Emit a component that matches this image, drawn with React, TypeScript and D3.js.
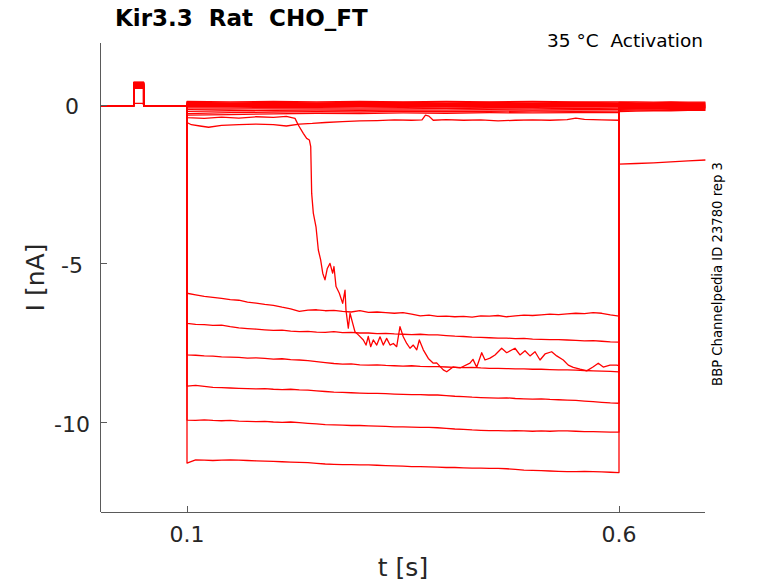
import React from 'react';
import * as d3 from 'd3';

// ---------- data ----------
const X_DOMAIN: [number, number] = [0, 0.7];
const Y_DOMAIN: [number, number] = [-12.8, 1.95];
const X_TICKS = [0.1, 0.6];
const Y_TICKS = [0, -5, -10];
const TITLE = 'Kir3.3  Rat  CHO_FT';
const SUBTITLE = '35 °C  Activation';
const SIDE = 'BBP Channelpedia ID 23780 rep 3';
const X_LABEL = 't [s]';
const Y_LABEL = 'I [nA]';

const BASELINE = -0.02;
const PULSE_START = 0.0385;
const PULSE_END = 0.0498;
const STEP_START = 0.1;

// fine step grid for the large traces (0.10 ... 0.60, every 10 ms)
const T_STEP = d3.range(0, 51).map((i) => +(0.1 + i * 0.01).toFixed(2));
// coarse grid for the near-zero traces
const T_COARSE = [0.1, 0.15, 0.2, 0.25, 0.3, 0.35, 0.4, 0.45, 0.5, 0.55, 0.6];
// tail grid
const T_TAIL = [0.6, 0.62, 0.64, 0.66, 0.68, 0.7];

const traceA = [-5.92,-5.97,-6.02,-6.05,-6.08,-6.12,-6.14,-6.20,-6.23,-6.27,-6.30,-6.36,-6.41,-6.49,-6.45,-6.44,-6.47,-6.46,-6.49,-6.51,-6.47,-6.52,-6.51,-6.53,-6.55,-6.53,-6.58,-6.63,-6.61,-6.65,-6.64,-6.66,-6.65,-6.67,-6.63,-6.64,-6.62,-6.66,-6.63,-6.61,-6.62,-6.60,-6.58,-6.59,-6.57,-6.55,-6.56,-6.53,-6.55,-6.60,-6.64];
const traceB = [-6.87,-6.90,-6.91,-6.93,-6.92,-6.97,-7.01,-7.03,-7.05,-7.07,-7.09,-7.08,-7.11,-7.13,-7.12,-7.14,-7.15,-7.13,-7.16,-7.15,-7.17,-7.17,-7.19,-7.18,-7.20,-7.21,-7.22,-7.21,-7.23,-7.23,-7.25,-7.27,-7.28,-7.30,-7.31,-7.32,-7.33,-7.33,-7.35,-7.34,-7.36,-7.37,-7.38,-7.38,-7.39,-7.40,-7.42,-7.41,-7.43,-7.45,-7.46];
const traceC = [-7.86,-7.87,-7.89,-7.90,-7.92,-7.93,-7.94,-7.96,-7.95,-7.97,-7.99,-7.98,-8.01,-8.02,-8.04,-8.07,-8.10,-8.13,-8.15,-8.14,-8.17,-8.18,-8.17,-8.19,-8.20,-8.21,-8.20,-8.22,-8.23,-8.23,-8.24,-8.25,-8.26,-8.25,-8.27,-8.28,-8.28,-8.29,-8.30,-8.30,-8.31,-8.31,-8.32,-8.33,-8.33,-8.34,-8.35,-8.36,-8.37,-8.38,-8.39];
const traceD = [-8.84,-8.82,-8.85,-8.88,-8.89,-8.90,-8.91,-8.92,-8.93,-8.92,-8.94,-8.95,-8.94,-8.96,-8.97,-8.99,-9.01,-9.03,-9.04,-9.05,-9.06,-9.07,-9.07,-9.08,-9.09,-9.10,-9.11,-9.11,-9.12,-9.12,-9.14,-9.16,-9.17,-9.19,-9.20,-9.21,-9.22,-9.21,-9.23,-9.24,-9.25,-9.24,-9.26,-9.27,-9.28,-9.29,-9.31,-9.33,-9.35,-9.37,-9.38];
const traceE = [-9.91,-9.92,-9.90,-9.92,-9.93,-9.92,-9.94,-9.95,-9.96,-9.95,-9.97,-9.98,-9.97,-9.99,-10.01,-10.03,-10.05,-10.06,-10.07,-10.08,-10.08,-10.09,-10.10,-10.11,-10.12,-10.12,-10.13,-10.14,-10.14,-10.15,-10.17,-10.19,-10.20,-10.22,-10.23,-10.24,-10.24,-10.25,-10.24,-10.25,-10.26,-10.25,-10.26,-10.25,-10.25,-10.26,-10.27,-10.27,-10.28,-10.29,-10.29];
const traceF = [-11.26,-11.16,-11.17,-11.18,-11.17,-11.16,-11.17,-11.18,-11.19,-11.20,-11.21,-11.22,-11.23,-11.24,-11.25,-11.27,-11.29,-11.30,-11.31,-11.31,-11.32,-11.32,-11.33,-11.34,-11.35,-11.36,-11.37,-11.37,-11.38,-11.39,-11.40,-11.40,-11.41,-11.42,-11.42,-11.43,-11.43,-11.44,-11.46,-11.48,-11.49,-11.50,-11.51,-11.52,-11.53,-11.53,-11.52,-11.53,-11.54,-11.55,-11.56];

// trace that runs down mid-step
const traceW_t = [0.10,0.12,0.14,0.16,0.18,0.20,0.215,0.225,0.2288,0.2346,0.2385,0.2416,0.2432,0.2443,0.2462,0.2493,0.252,0.2547,0.2571,0.2597,0.2624,0.2655,0.2686,0.2701,0.2725,0.2763,0.2802,0.2829,0.284,0.2867,0.2887,0.2918,0.2944,0.2983,0.3041,0.3072,0.3098,0.3126,0.3156,0.3196,0.3234,0.3272,0.3311,0.335,0.3388,0.3427,0.3465,0.3503,0.3543,0.3581,0.3619,0.3659,0.3689,0.3735,0.3793,0.3851,0.389,0.3966,0.4006,0.4079,0.416,0.4275,0.431,0.4353,0.4411,0.4449,0.4507,0.4565,0.4642,0.47,0.4796,0.4854,0.4912,0.497,0.5028,0.5086,0.5144,0.5221,0.5279,0.5355,0.5413,0.5471,0.5549,0.5626,0.5703,0.576,0.5818,0.5896,0.5973,0.60];
const traceW_v = [-0.40,-0.42,-0.38,-0.41,-0.37,-0.39,-0.36,-0.42,-0.63,-0.89,-1.05,-1.10,-1.31,-2.78,-3.40,-3.83,-4.56,-4.87,-5.29,-5.50,-5.14,-4.98,-5.29,-5.08,-5.71,-5.92,-6.24,-5.82,-6.45,-7.02,-6.55,-6.87,-7.13,-7.23,-7.39,-7.55,-7.28,-7.60,-7.39,-7.55,-7.29,-7.55,-7.34,-7.55,-7.50,-7.60,-6.97,-7.29,-7.50,-7.65,-7.55,-7.70,-7.39,-7.70,-7.97,-8.12,-8.11,-8.33,-8.39,-8.24,-8.27,-8.12,-8.00,-8.25,-7.79,-8.02,-7.96,-7.86,-7.65,-7.79,-7.65,-7.86,-7.73,-7.89,-7.76,-8.02,-7.83,-7.76,-7.89,-8.02,-8.18,-8.25,-8.31,-8.36,-8.23,-8.12,-8.24,-8.18,-8.18,-8.20];

const traceG_t = [0.10,0.105,0.115,0.125,0.14,0.16,0.18,0.20,0.215,0.23,0.245,0.26,0.28,0.30,0.32,0.34,0.36,0.372,0.376,0.38,0.385,0.40,0.42,0.44,0.46,0.48,0.50,0.52,0.54,0.55,0.56,0.58,0.60];
const traceG_v = [-0.55,-0.62,-0.66,-0.70,-0.64,-0.62,-0.60,-0.62,-0.66,-0.60,-0.58,-0.55,-0.52,-0.50,-0.49,-0.47,-0.48,-0.47,-0.32,-0.35,-0.48,-0.46,-0.48,-0.47,-0.50,-0.48,-0.47,-0.48,-0.46,-0.41,-0.45,-0.47,-0.48];

// near-zero traces on the coarse grid
const traceN1 = [0.11,0.10,0.11,0.10,0.11,0.10,0.11,0.10,0.11,0.10,0.10];
const traceN2 = [0.08,0.07,0.08,0.07,0.08,0.08,0.07,0.08,0.07,0.08,0.07];
const traceN3 = [0.05,0.05,0.04,0.05,0.04,0.05,0.05,0.04,0.05,0.04,0.05];
const traceN4 = [0.02,0.02,0.01,0.02,0.02,0.01,0.02,0.01,0.02,0.02,0.01];
const traceN5 = [-0.01,-0.02,-0.01,-0.01,-0.02,-0.01,-0.02,-0.01,-0.01,-0.02,-0.01];
const traceN6 = [-0.05,-0.05,-0.04,-0.05,-0.04,-0.05,-0.04,-0.05,-0.05,-0.04,-0.05];
const traceN7 = [-0.09,-0.09,-0.08,-0.08,-0.09,-0.08,-0.09,-0.08,-0.08,-0.09,-0.08];
const traceN8 = [-0.14,-0.13,-0.12,-0.12,-0.13,-0.12,-0.11,-0.12,-0.12,-0.11,-0.12];
const traceN9 = [-0.20,-0.18,-0.17,-0.16,-0.17,-0.16,-0.16,-0.15,-0.16,-0.15,-0.15];
const traceN10 = [-0.27,-0.24,-0.22,-0.21,-0.22,-0.20,-0.21,-0.20,-0.19,-0.20,-0.19];
const traceN11 = [-0.32,-0.30,-0.28,-0.26,-0.27,-0.25,-0.26,-0.24,-0.25,-0.24,-0.24];

// tails after the step (T_TAIL)
const tailA = [-0.05,-0.05,-0.04,-0.05,-0.04,-0.04];
const tailB = [-0.08,-0.08,-0.07,-0.08,-0.07,-0.07];
const tailC = [-0.11,-0.10,-0.10,-0.10,-0.09,-0.10];
const tailD = [-0.14,-0.13,-0.13,-0.12,-0.12,-0.12];
const tailE = [-0.17,-0.16,-0.16,-0.15,-0.15,-0.15];
const tailF = [-0.21,-0.19,-0.18,-0.18,-0.17,-0.17];
const tailW = [-1.86,-1.84,-1.82,-1.79,-1.76,-1.73];
const tailG = [-0.02,-0.02,-0.01,-0.02,-0.01,-0.01];
const tailN1 = [0.10,0.10,0.09,0.10,0.09,0.09];
const tailN2 = [0.08,0.07,0.07,0.08,0.07,0.07];
const tailN3 = [0.06,0.05,0.05,0.06,0.05,0.05];
const tailN4 = [0.04,0.04,0.03,0.04,0.03,0.03];
const tailN5 = [0.02,0.02,0.01,0.02,0.01,0.02];
const tailN6 = [0.00,0.00,-0.01,0.00,-0.01,0.00];
const tailN7 = [-0.02,-0.02,-0.03,-0.02,-0.03,-0.02];
const tailN8 = [-0.04,-0.04,-0.05,-0.04,-0.05,-0.04];
const tailN9 = [-0.06,-0.06,-0.07,-0.06,-0.07,-0.06];
const tailN10 = [-0.09,-0.08,-0.09,-0.08,-0.09,-0.08];
const tailN11 = [-0.12,-0.11,-0.11,-0.10,-0.11,-0.10];

// test-pulse amplitude before the step
const PULSES = [0.72, 0.70, 0.69, 0.67, 0.66, 0.64, 0.71, 0.62, 0.60, 0.59, 0.57, 0.56, 0.55, 0.54, 0.53, 0.52, 0.68, 0.65, 0.05];

// ---------- layout ----------
const W = 778;
const H = 583;
const X_RANGE: [number, number] = [100.6, 705.4];
const Y_RANGE: [number, number] = [512, 43];
const FONT = "'DejaVu Sans', Verdana, sans-serif";
const RED = '#ff0000';
const AXIS = '#5a5a5a';
const TEXT = '#262626';

type Pt = [number, number];

function makeTrace(stepT: number[], stepV: number[], tail: number[], pulse: number): Pt[] {
  const pre: Pt[] = [
    [0, BASELINE],
    [PULSE_START, BASELINE],
    [PULSE_START, pulse],
    [PULSE_END, pulse],
    [PULSE_END, BASELINE],
    [STEP_START, BASELINE],
  ];
  const step: Pt[] = d3.zip(stepT, stepV) as Pt[];
  const tl: Pt[] = d3.zip(T_TAIL, tail) as Pt[];
  return [...pre, ...step, ...tl];
}

export default function App() {
  const x = d3.scaleLinear().domain(X_DOMAIN).range(X_RANGE);
  const y = d3.scaleLinear().domain(Y_DOMAIN).range(Y_RANGE);
  const line = d3
    .line<Pt>()
    .x((d) => x(d[0]))
    .y((d) => y(d[1]));

  const traces: Pt[][] = [
    makeTrace(T_COARSE, traceN1, tailN1, PULSES[0]),
    makeTrace(T_COARSE, traceN2, tailN2, PULSES[1]),
    makeTrace(T_COARSE, traceN3, tailN3, PULSES[2]),
    makeTrace(T_COARSE, traceN4, tailN4, PULSES[3]),
    makeTrace(T_COARSE, traceN5, tailN5, PULSES[4]),
    makeTrace(T_COARSE, traceN6, tailN6, PULSES[5]),
    makeTrace(T_COARSE, traceN7, tailN7, PULSES[6]),
    makeTrace(T_COARSE, traceN8, tailN8, PULSES[7]),
    makeTrace(T_COARSE, traceN9, tailN9, PULSES[8]),
    makeTrace(T_COARSE, traceN10, tailN10, PULSES[9]),
    makeTrace(T_COARSE, traceN11, tailN11, PULSES[10]),
    makeTrace(traceG_t, traceG_v, tailG, PULSES[11]),
    makeTrace(traceW_t, traceW_v, tailW, PULSES[12]),
    makeTrace(T_STEP, traceA, tailA, PULSES[13]),
    makeTrace(T_STEP, traceB, tailB, PULSES[14]),
    makeTrace(T_STEP, traceC, tailC, PULSES[15]),
    makeTrace(T_STEP, traceD, tailD, PULSES[16]),
    makeTrace(T_STEP, traceE, tailE, PULSES[17]),
    makeTrace(T_STEP, traceF, tailF, PULSES[18]),
  ];

  const [x0, x1] = X_RANGE;
  const [yb, yt] = Y_RANGE;

  return (
    <svg
      width={W}
      height={H}
      viewBox={`0 0 ${W} ${H}`}
      style={{ position: 'absolute', left: 0, top: 0, background: '#fff' }}
      fontFamily={FONT}
    >
      <rect x={0} y={0} width={W} height={H} fill="#fff" />

      {/* traces */}
      <g fill="none" stroke={RED} strokeWidth={1.3} strokeLinejoin="round">
        {traces.map((pts, i) => (
          <path key={i} d={line(pts) || ''} />
        ))}
      </g>

      {/* axes */}
      <g stroke={AXIS} strokeWidth={1} fill="none" shapeRendering="crispEdges">
        <line x1={x0} y1={yt} x2={x0} y2={yb} />
        <line x1={x0} y1={yb} x2={x1} y2={yb} />
        {Y_TICKS.map((t) => (
          <line key={'yt' + t} x1={x0} x2={x0 + 6.5} y1={y(t)} y2={y(t)} />
        ))}
        {X_TICKS.map((t) => (
          <line key={'xt' + t} x1={x(t)} x2={x(t)} y1={yb} y2={yb - 6.5} />
        ))}
      </g>

      {/* tick labels */}
      <g fill={TEXT} fontSize={22}>
        {Y_TICKS.map((t) => (
          <text key={'yl' + t} x={72} y={y(t) + 9} textAnchor="middle">
            {String(t)}
          </text>
        ))}
        {X_TICKS.map((t) => (
          <text key={'xl' + t} x={x(t)} y={542} textAnchor="middle">
            {t.toFixed(1)}
          </text>
        ))}
      </g>

      {/* axis labels */}
      <text x={(x0 + x1) / 2} y={576} textAnchor="middle" fontSize={25} fill={TEXT}>
        {X_LABEL}
      </text>
      <text
        transform={`translate(44, ${(yt + yb) / 2}) rotate(-90)`}
        textAnchor="middle"
        fontSize={25}
        fill={TEXT}
      >
        {Y_LABEL}
      </text>

      {/* title & annotations */}
      <text x={115} y={26} fontSize={23} fontWeight="bold" fill="#000" style={{ whiteSpace: 'pre' }}>
        {TITLE}
      </text>
      <text x={703} y={47} fontSize={18.5} textAnchor="end" fill="#000" style={{ whiteSpace: 'pre' }}>
        {SUBTITLE}
      </text>
      <text
        transform={`translate(722, 274) rotate(-90)`}
        textAnchor="middle"
        fontSize={13.2}
        fill="#000"
      >
        {SIDE}
      </text>
    </svg>
  );
}
